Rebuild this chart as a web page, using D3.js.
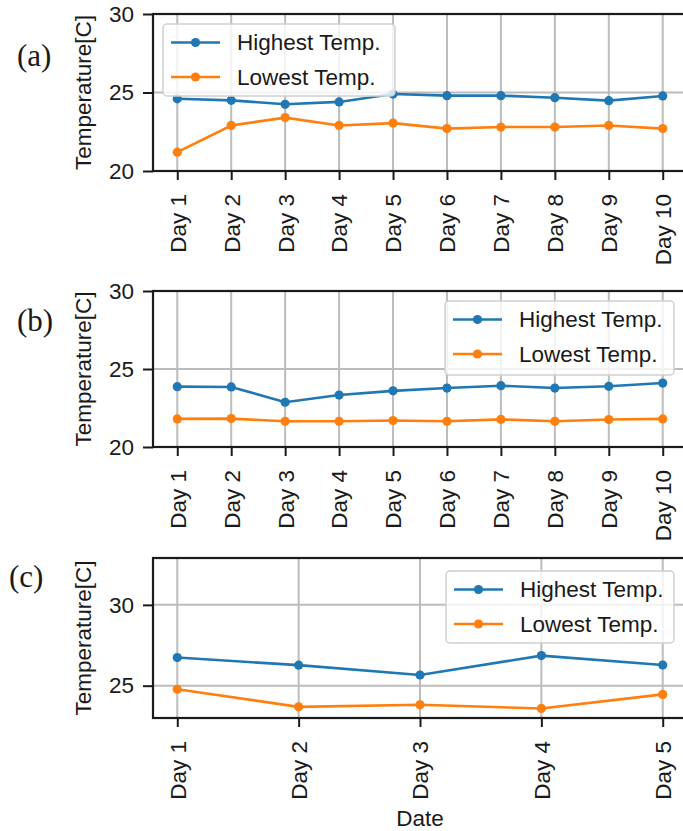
<!DOCTYPE html>
<html><head><meta charset="utf-8">
<script src="https://cdn.jsdelivr.net/npm/d3@7"></script>
<style>
body{margin:0;background:#fff;}
svg{display:block;}
text{font-family:"Liberation Sans",Arial,sans-serif;fill:#1a1a1a;}
</style></head>
<body><svg id="chart" width="683" height="831"></svg>
<script>
const days10 = ["Day 1","Day 2","Day 3","Day 4","Day 5","Day 6","Day 7","Day 8","Day 9","Day 10"];
const days5 = ["Day 1","Day 2","Day 3","Day 4","Day 5"];
const highA = [24.6,24.5,24.25,24.4,24.9,24.8,24.8,24.67,24.48,24.78];
const lowA  = [21.2,22.9,23.4,22.9,23.05,22.7,22.8,22.8,22.9,22.7];
const highB = [23.87,23.85,22.87,23.33,23.6,23.78,23.93,23.78,23.89,24.1];
const lowB  = [21.8,21.82,21.65,21.65,21.7,21.65,21.77,21.65,21.76,21.8];
const highC = [26.74,26.27,25.66,26.86,26.28];
const lowC  = [24.78,23.69,23.82,23.59,24.46];
const yTicksAB = [20,25,30];
const yTicksC = [25,30];
const yDomainAB = [20,30];
const yDomainC = [23,32.9];
const seriesNames = ["Highest Temp.","Lowest Temp."];
const colors = ["#1f77b4","#ff7f0e"];
const panelLabels = ["(a)","(b)","(c)"];

const svg = d3.select("#chart");
svg.append("rect").attr("width",683).attr("height",831).attr("fill","#fff");

const FS = 22.5;
const panels = [
  {cats:days10, hi:highA, lo:lowA, dom:yDomainAB, ticks:yTicksAB, top:14, bottom:171, label:panelLabels[0], lx:17, ly:66,
   leg:{x:163,y:24,w:232,h:72}},
  {cats:days10, hi:highB, lo:lowB, dom:yDomainAB, ticks:yTicksAB, top:291, bottom:447, label:panelLabels[1], lx:17, ly:331,
   leg:{x:445,y:301,w:229,h:74}},
  {cats:days5, hi:highC, lo:lowC, dom:yDomainC, ticks:yTicksC, top:558, bottom:718, label:panelLabels[2], lx:9, ly:587,
   leg:{x:446,y:571,w:228,h:72}, xlabel:"Date"}
];
const left = 153, right = 687;

panels.forEach(p => {
  const n = p.cats.length;
  const x = d3.scalePoint().domain(p.cats).range([left,right]).padding(0.05*(n-1));
  const y = d3.scaleLinear().domain(p.dom).range([p.bottom,p.top]);
  const g = svg.append("g");

  // grid
  g.append("g").selectAll("line").data(p.cats).join("line")
    .attr("x1",d=>x(d)).attr("x2",d=>x(d)).attr("y1",p.top).attr("y2",p.bottom)
    .attr("stroke","#bcbcbc").attr("stroke-width",2);
  g.append("g").selectAll("line").data(p.ticks).join("line")
    .attr("x1",left).attr("x2",right).attr("y1",d=>y(d)).attr("y2",d=>y(d))
    .attr("stroke","#bcbcbc").attr("stroke-width",2);

  // series
  [p.hi,p.lo].forEach((vals,i)=>{
    const pts = vals.map((v,k)=>[x(p.cats[k]),y(v)]);
    g.append("path").attr("d",d3.line()(pts)).attr("fill","none")
      .attr("stroke",colors[i]).attr("stroke-width",2.6);
    g.selectAll(null).data(pts).join("circle")
      .attr("cx",d=>d[0]).attr("cy",d=>d[1]).attr("r",4.6).attr("fill",colors[i]);
  });

  // axes
  const ya = d3.axisLeft(y).tickValues(p.ticks).tickSize(10).tickPadding(9).tickFormat(d3.format("d"));
  const yg = g.append("g").attr("transform",`translate(${left},0)`).call(ya);
  yg.select(".domain").remove();
  yg.selectAll(".tick line").attr("stroke","#1a1a1a").attr("stroke-width",2);
  yg.selectAll(".tick text").attr("font-size",FS).attr("fill","#1a1a1a").style("font-family","Liberation Sans, Arial");

  const xa = d3.axisBottom(x).tickSize(9).tickFormat(d=>d);
  const xg = g.append("g").attr("transform",`translate(0,${p.bottom})`).call(xa);
  xg.select(".domain").remove();
  xg.selectAll(".tick line").attr("stroke","#1a1a1a").attr("stroke-width",2);
  xg.selectAll(".tick text").attr("font-size",FS).attr("fill","#1a1a1a").style("font-family","Liberation Sans, Arial")
    .attr("text-anchor","end").attr("y",0).attr("dy","0.35em")
    .attr("transform","translate(0,23) rotate(-90)");

  // spines
  g.append("rect").attr("x",left).attr("y",p.top).attr("width",right-left).attr("height",p.bottom-p.top)
    .attr("fill","none").attr("stroke","#1a1a1a").attr("stroke-width",2.2);

  // y label
  g.append("text").attr("transform",`translate(83,${(p.top+p.bottom)/2}) rotate(-90)`)
    .attr("text-anchor","middle").attr("dy","0.35em").attr("font-size",FS).text("Temperature[C]");

  // panel label
  g.append("text").attr("x",p.lx).attr("y",p.ly).attr("font-size",31)
    .style("font-family","Liberation Serif, Times New Roman, serif").attr("fill","#111").text(p.label);

  // legend
  const L = p.leg;
  const lg = g.append("g");
  lg.append("rect").attr("x",L.x).attr("y",L.y).attr("width",L.w).attr("height",L.h).attr("rx",4)
    .attr("fill","#fff").attr("fill-opacity",0.8).attr("stroke","#d0d0d0").attr("stroke-width",1.5);
  seriesNames.forEach((s,i)=>{
    const cy = L.y + 18.5 + i*34.5;
    lg.append("line").attr("x1",L.x+8).attr("x2",L.x+57).attr("y1",cy).attr("y2",cy)
      .attr("stroke",colors[i]).attr("stroke-width",2.6);
    lg.append("circle").attr("cx",L.x+32.5).attr("cy",cy).attr("r",4.6).attr("fill",colors[i]);
    lg.append("text").attr("x",L.x+74).attr("y",cy).attr("dy","0.35em").attr("font-size",FS).text(s);
  });

  if (p.xlabel) {
    g.append("text").attr("x",(left+right)/2).attr("y",826).attr("text-anchor","middle")
      .attr("font-size",FS).text(p.xlabel);
  }
});
</script></body></html>
